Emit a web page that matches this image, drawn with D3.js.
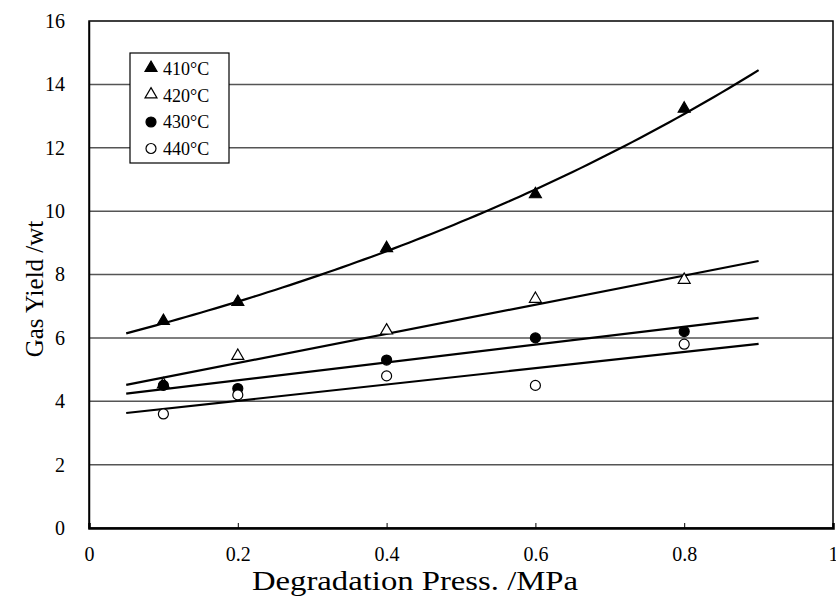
<!DOCTYPE html>
<html>
<head>
<meta charset="utf-8">
<script src="https://cdn.jsdelivr.net/npm/d3@7"></script>
<style>
  body { margin: 0; background: #fff; }
  text { font-family: "Liberation Serif", "DejaVu Serif", serif; fill: #000; }
</style>
</head>
<body>
<svg id="chart" width="836" height="599"></svg>
<script>
// data
var pressures = [0.1, 0.2, 0.4, 0.6, 0.8];
var yield410 = [6.5, 7.1, 8.8, 10.5, 13.2];
var yield420 = [4.5, 5.4, 6.2, 7.2, 7.8];
var yield430 = [4.5, 4.4, 5.3, 6.0, 6.2];
var yield440 = [3.6, 4.2, 4.8, 4.5, 5.8];
var seriesNames = ["410\u00b0C", "420\u00b0C", "430\u00b0C", "440\u00b0C"];
var xTicks = [0, 0.2, 0.4, 0.6, 0.8, 1];
var yTicks = [0, 2, 4, 6, 8, 10, 12, 14, 16];
var fitRange = [0.05, 0.9];

var svg = d3.select("#chart");
var plotL = 89, plotR = 833, plotT = 21, plotB = 528;

var x = d3.scaleLinear().domain([0, 1]).range([plotL, plotR]);
var y = d3.scaleLinear().domain([0, 16]).range([plotB, plotT]);

// grid lines
svg.append("g").selectAll("line")
    .data(yTicks.filter(function(d){ return d > 0 && d < 16; }))
    .enter().append("line")
    .attr("x1", plotL).attr("x2", plotR)
    .attr("y1", function(d){ return y(d); })
    .attr("y2", function(d){ return y(d); })
    .style("stroke", "#555")
    .style("stroke-width", 1.5);

// frame
svg.append("rect")
    .attr("x", plotL).attr("y", plotT)
    .attr("width", plotR - plotL).attr("height", plotB - plotT)
    .style("fill", "none")
    .style("stroke", "#000")
    .style("stroke-width", 1.5);

// axes
var xAxis = svg.append("g")
    .attr("transform", "translate(0," + plotB + ")")
    .call(d3.axisBottom(x).tickValues(xTicks).tickSize(-5).tickPadding(19)
        .tickFormat(function(d){ return d === 0 || d === 1 ? d : d3.format(".1f")(d); }));
xAxis.select(".domain").style("stroke", "#000").style("stroke-width", 2.5);
xAxis.selectAll("text").style("font-size", "20px").style("font-family", "Liberation Serif");

var yAxis = svg.append("g")
    .attr("transform", "translate(" + plotL + ",0)")
    .call(d3.axisLeft(y).tickValues(yTicks).tickSize(0).tickPadding(24));
yAxis.select(".domain").style("stroke", "#000").style("stroke-width", 1.5);
yAxis.selectAll("text").style("font-size", "20px").style("font-family", "Liberation Serif");

// axis titles
svg.append("text")
    .attr("x", 415)
    .attr("y", 590)
    .attr("text-anchor", "middle")
    .attr("textLength", 326)
    .attr("lengthAdjust", "spacingAndGlyphs")
    .style("font-size", "27px")
    .text("Degradation Press. /MPa");

svg.append("text")
    .attr("transform", "translate(43,289) rotate(-90)")
    .attr("text-anchor", "middle")
    .style("font-size", "25px")
    .text("Gas Yield /wt");

// least squares fits
function linFit(xs, ys){
    var mx = d3.mean(xs), my = d3.mean(ys);
    var sxy = d3.sum(xs, function(v, i){ return (v - mx) * (ys[i] - my); });
    var sxx = d3.sum(xs, function(v){ return (v - mx) * (v - mx); });
    var b = sxy / sxx;
    return { a: my - b * mx, b: b };
}
function linCurve(ys){
    var f = linFit(pressures, ys);
    return fitRange.map(function(p){ return [p, f.a + f.b * p]; });
}
function expCurve(ys){
    var f = linFit(pressures, ys.map(Math.log));
    return d3.range(fitRange[0], fitRange[1] + 0.001, 0.01)
        .map(function(p){ return [p, Math.exp(f.a + f.b * p)]; });
}

var line = d3.line()
    .x(function(d){ return x(d[0]); })
    .y(function(d){ return y(d[1]); });

var fits = [expCurve(yield410), linCurve(yield420), linCurve(yield430), linCurve(yield440)];
svg.append("g").selectAll("path")
    .data(fits)
    .enter().append("path")
    .attr("d", line)
    .style("fill", "none")
    .style("stroke", "#000")
    .style("stroke-width", 2.2);

// markers
var tri = d3.symbol().type(d3.symbolTriangle).size(62);
var series = [
    { vals: yield410, shape: "tri", fill: "#000" },
    { vals: yield420, shape: "tri", fill: "#fff" },
    { vals: yield430, shape: "circle", fill: "#000" },
    { vals: yield440, shape: "circle", fill: "#fff" }
];

function drawMarker(g, shape, fill, cx, cy){
    if (shape === "tri") {
        g.append("path")
            .attr("d", tri)
            .attr("transform", "translate(" + cx + "," + (cy - 1) + ")")
            .style("fill", fill)
            .style("stroke", "#000")
            .style("stroke-width", 1.2);
    } else {
        g.append("circle")
            .attr("cx", cx).attr("cy", cy).attr("r", 5)
            .style("fill", fill)
            .style("stroke", "#000")
            .style("stroke-width", 1.2);
    }
}

var pts = svg.append("g");
series.forEach(function(s){
    s.vals.forEach(function(v, i){
        drawMarker(pts, s.shape, s.fill, x(pressures[i]), y(v));
    });
});

// legend
var legend = svg.append("g");
legend.append("rect")
    .attr("x", 130).attr("y", 53)
    .attr("width", 99).attr("height", 110)
    .style("fill", "#fff")
    .style("stroke", "#000")
    .style("stroke-width", 1.2);

series.forEach(function(s, i){
    var ly = 69 + i * 26.5;
    drawMarker(legend, s.shape, s.fill, 151, ly);
    legend.append("text")
        .attr("x", 163)
        .attr("y", ly + 6)
        .style("font-size", "18px")
        .text(seriesNames[i]);
});
</script>
</body>
</html>
